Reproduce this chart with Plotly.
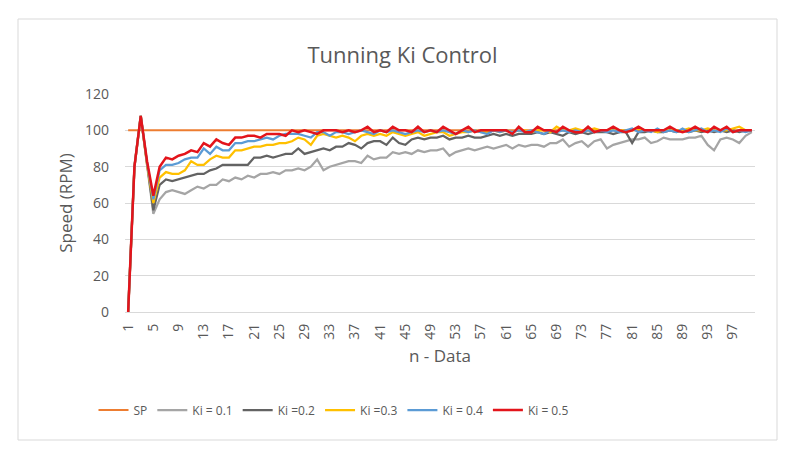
import plotly.graph_objects as go

n_data = list(range(1, 101))
sp = [100] * 100

ki_01 = [0, 80, 108, 80, 54, 62, 66, 67, 66, 65, 67, 69, 68, 70, 70, 73, 72, 74, 73, 75,
         74, 76, 76, 77, 76, 78, 78, 79, 78, 80, 84, 78, 80, 81, 82, 83, 83, 82, 86, 84,
         85, 85, 88, 87, 88, 87, 89, 88, 89, 89, 90, 86, 88, 89, 90, 89, 90, 91, 90, 91,
         92, 90, 92, 91, 92, 92, 91, 93, 93, 95, 91, 93, 94, 91, 94, 95, 90, 92, 93, 94,
         95, 95, 96, 93, 94, 96, 95, 95, 95, 96, 96, 97, 92, 89, 95, 96, 95, 93, 97, 99]
ki_02 = [0, 80, 108, 81, 56, 70, 73, 72, 73, 74, 75, 76, 76, 78, 79, 81, 81, 81, 81, 81,
         85, 85, 86, 85, 86, 87, 87, 90, 87, 88, 89, 90, 89, 91, 91, 93, 92, 90, 93, 94,
         94, 92, 96, 93, 92, 95, 96, 95, 96, 96, 97, 95, 96, 96, 97, 96, 96, 97, 98, 97,
         98, 97, 98, 98, 98, 99, 98, 99, 98, 97, 99, 98, 99, 98, 99, 99, 99, 98, 99, 99,
         93, 99, 99, 100, 99, 99, 100, 99, 100, 99, 100, 99, 100, 99, 100, 99, 100, 99, 100, 100]
ki_03 = [0, 80, 108, 81, 60, 74, 77, 76, 76, 78, 83, 81, 81, 84, 86, 85, 85, 89, 89, 90,
         91, 91, 92, 92, 93, 93, 94, 96, 95, 92, 97, 98, 97, 96, 97, 96, 94, 97, 98, 97,
         98, 97, 99, 98, 97, 98, 99, 97, 98, 99, 99, 97, 98, 99, 99, 100, 99, 99, 100, 99,
         100, 99, 100, 100, 99, 100, 100, 99, 102, 100, 100, 101, 100, 100, 101, 100, 100, 101, 100, 100,
         100, 101, 100, 100, 99, 100, 101, 100, 100, 101, 100, 100, 101, 100, 100, 100, 101, 102, 100, 100]
ki_04 = [0, 80, 108, 82, 62, 78, 81, 81, 82, 84, 85, 85, 90, 87, 91, 89, 89, 93, 93, 94,
         94, 95, 96, 95, 97, 98, 98, 98, 97, 96, 99, 99, 97, 99, 99, 98, 99, 100, 99, 98,
         100, 99, 100, 99, 98, 99, 100, 99, 100, 99, 100, 99, 98, 100, 99, 100, 99, 98, 100, 99,
         100, 99, 100, 99, 100, 99, 98, 100, 99, 100, 99, 100, 99, 100, 99, 100, 99, 100, 99, 100,
         101, 99, 100, 99, 101, 99, 100, 99, 101, 99, 100, 101, 99, 100, 99, 101, 99, 100, 99, 100]
ki_05 = [0, 80, 108, 83, 64, 80, 85, 84, 86, 87, 89, 88, 93, 91, 95, 93, 92, 96, 96, 97,
         97, 96, 98, 98, 98, 97, 100, 99, 100, 99, 98, 100, 100, 100, 99, 100, 99, 100, 102, 99,
         100, 99, 102, 100, 100, 99, 102, 99, 100, 99, 102, 100, 98, 100, 102, 99, 100, 100, 100, 100,
         100, 98, 102, 99, 99, 102, 100, 100, 99, 102, 100, 99, 99, 102, 99, 100, 100, 102, 100, 99,
         100, 102, 100, 100, 100, 100, 102, 100, 99, 100, 102, 100, 99, 102, 100, 102, 99, 100, 100, 100]

tick_vals = list(range(1, 101, 4))
tick_text = [str(v) for v in tick_vals]

series = [
    ("SP", sp, "#ED7D31", 2.0),
    ("Ki = 0.1", ki_01, "#A5A5A5", 2.25),
    ("Ki =0.2", ki_02, "#636363", 2.25),
    ("Ki =0.3", ki_03, "#FFC000", 2.25),
    ("Ki = 0.4", ki_04, "#5B9BD5", 2.25),
    ("Ki = 0.5", ki_05, "#E3141B", 2.5),
]

fig = go.Figure()
for name, vals, color, w in series:
    fig.add_trace(go.Scatter(x=n_data, y=vals, mode="lines", name=name,
                             line=dict(color=color, width=w)))

font_family = "Open Sans, Noto Sans, Liberation Sans, sans-serif"
gray = "#595959"

fig.update_layout(
    width=805, height=460,
    margin=dict(l=125, r=50, t=94, b=148),
    paper_bgcolor="white", plot_bgcolor="white",
    font=dict(family=font_family, color=gray, size=12),
    title=dict(text="Tunning Ki Control", x=0.5, xref="container",
               xanchor="center", y=1 - 55 / 460, yanchor="middle",
               font=dict(size=22, color=gray)),
    xaxis=dict(range=[0.5, 100.5], tickmode="array", tickvals=tick_vals, ticktext=tick_text,
               tickangle=-90, showgrid=False, zeroline=False, showline=False,
               ticks="", tickfont=dict(size=14, color=gray), ticklabelstandoff=8,
               title=dict(text="n - Data", font=dict(size=17, color=gray), standoff=11)),
    yaxis=dict(range=[0, 120], dtick=20, showgrid=True, gridcolor="#D9D9D9", gridwidth=1,
               zeroline=True, zerolinecolor="#D9D9D9", zerolinewidth=1, showline=False,
               ticks="", tickfont=dict(size=14, color=gray), ticklabelstandoff=15,
               title=dict(text="Speed (RPM)", font=dict(size=17, color=gray), standoff=8)),
    legend=dict(orientation="h", x=-0.05, xanchor="left", y=-0.45, yanchor="middle",
                font=dict(size=12, color=gray), traceorder="normal",
                itemwidth=30, bgcolor="rgba(0,0,0,0)"),
    showlegend=True,
)

fig.add_shape(type="rect", xref="paper", yref="paper",
              x0=(18 - 125) / 630, x1=(777 - 125) / 630,
              y0=(312 - 440) / 218, y1=(312 - 19) / 218,
              line=dict(color="#D9D9D9", width=1), fillcolor="rgba(0,0,0,0)", layer="below")

fig.write_html("out.html")
